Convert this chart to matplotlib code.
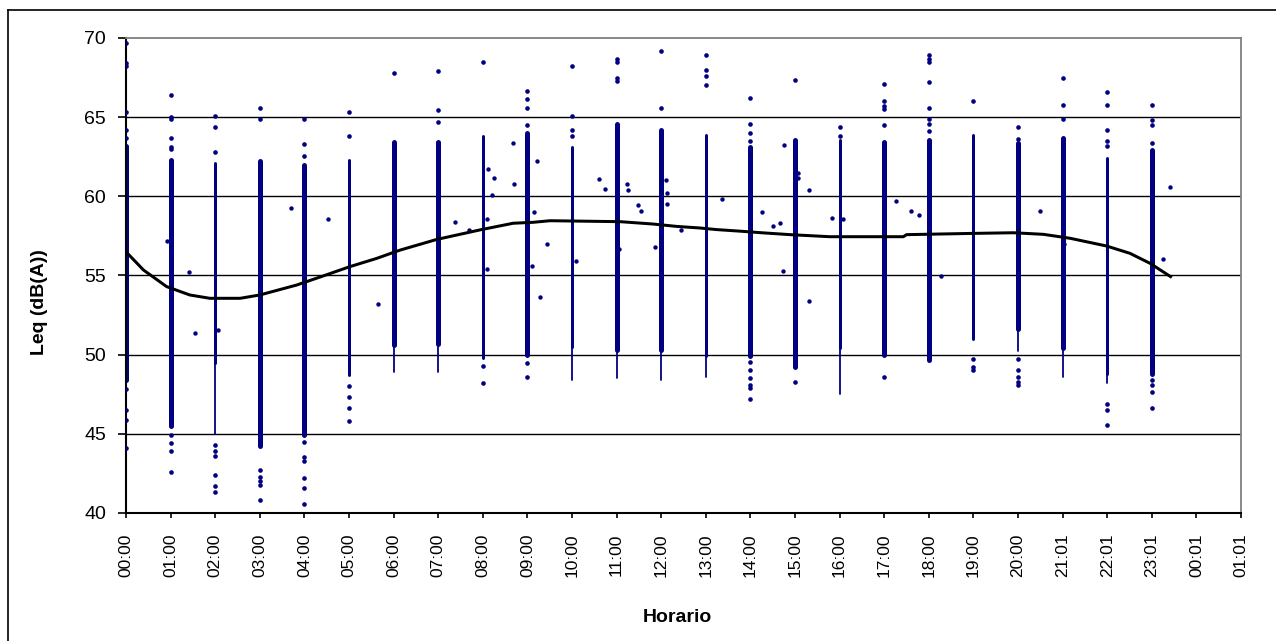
"""Hourly Leq scatter (dB(A)) with its smoothed daily trend, Excel-style chart."""

import matplotlib

matplotlib.use("Agg")
import matplotlib.pyplot as plt
from matplotlib.lines import Line2D

# hour columns, dense band of readings per hour (top / bottom), thin tail below
hours = list(range(24))
core_hi = [63.2, 62.3, 62.1, 62.2, 62.0, 62.3, 63.45, 63.45, 63.8, 64.0, 63.1, 64.6,
           64.2, 63.9, 63.1, 63.55, 63.55, 63.45, 63.55, 63.9, 63.35, 63.7, 62.45, 62.9]
core_lo = [48.4, 45.5, 49.5, 44.2, 44.9, 48.7, 50.6, 50.7, 49.8, 50.0, 50.5, 50.3,
           50.3, 49.9, 49.9, 49.25, 50.4, 50.0, 49.65, 51.0, 51.65, 50.4, 48.8, 48.8]
tail_lo = [48.4, 45.5, 45.0, 44.2, 44.9, 48.7, 48.9, 48.9, 49.8, 50.0, 48.4, 48.5,
           48.4, 48.6, 49.9, 49.25, 47.5, 50.0, 49.65, 51.0, 50.2, 48.6, 48.2, 48.8]

# isolated readings on each hour column
outlier_hour = (
    [0] * 10 + [1] * 10 + [2] * 9 + [3] * 7 + [4] * 9 + [5] * 6 + [6] * 1 + [7] * 3
    + [8] * 3 + [9] * 6 + [10] * 4 + [11] * 4 + [12] * 2 + [13] * 4 + [14] * 10
    + [15] * 2 + [16] * 2 + [17] * 6 + [18] * 8 + [19] * 4 + [20] * 7 + [21] * 3
    + [22] * 8 + [23] * 8
)
outlier_leq = [
    69.7, 68.4, 68.2, 65.3, 64.2, 63.7, 47.8, 46.5, 45.9, 44.1,
    66.4, 65.0, 64.9, 63.7, 63.1, 63.0, 44.9, 44.4, 43.9, 42.6,
    65.1, 64.4, 62.8, 44.3, 43.9, 43.6, 42.4, 41.7, 41.3,
    65.6, 64.9, 42.7, 42.3, 42.0, 41.8, 40.8,
    64.9, 63.3, 62.55, 44.5, 43.55, 43.3, 42.2, 41.6, 40.55,
    65.3, 63.8, 48.0, 47.3, 46.6, 45.8,
    67.8,
    67.9, 65.45, 64.7,
    68.5, 49.3, 48.2,
    66.65, 66.15, 65.6, 64.5, 49.5, 48.6,
    68.2, 65.1, 64.2, 63.8,
    68.7, 68.5, 67.5, 67.3,
    69.2, 65.6,
    68.9, 68.0, 67.6, 67.0,
    66.2, 64.6, 64.0, 63.5, 49.55, 49.0, 48.5, 48.1, 47.9, 47.2,
    67.35, 48.25,
    64.4, 63.8,
    67.1, 66.0, 65.7, 65.5, 64.5, 48.6,
    68.9, 68.7, 68.5, 67.2, 65.6, 64.9, 64.6, 64.1,
    66.0, 49.75, 49.2, 49.0,
    64.4, 63.65, 49.75, 49.0, 48.6, 48.3, 48.1,
    67.5, 65.75, 64.9,
    66.6, 65.8, 64.2, 63.5, 63.2, 46.9, 46.5, 45.55,
    65.75, 64.8, 64.5, 63.35, 48.4, 48.1, 47.65, 46.65,
]

# stray readings between the hour columns (hours as decimals)
stray_hour = [0.93, 1.42, 1.55, 2.07, 3.70, 4.52, 5.66, 7.38, 7.70, 8.11, 8.26, 8.20,
              8.10, 8.10, 8.68, 8.71, 9.21, 9.15, 9.10, 9.43, 9.28, 10.08, 10.61,
              10.74, 11.06, 11.24, 11.25, 11.48, 11.55, 11.86, 12.10, 12.12, 12.12,
              12.44, 13.36, 14.25, 14.51, 14.66, 14.72, 14.75, 15.07, 15.07, 15.31,
              15.31, 15.83, 16.08, 17.26, 17.59, 17.79, 18.27, 20.49, 21.03, 23.24,
              23.40]
stray_leq = [57.2, 55.2, 51.35, 51.55, 59.25, 58.55, 53.2, 58.4, 57.9, 61.7, 61.15, 60.1,
             58.55, 55.4, 63.35, 60.8, 62.2, 59.0, 55.6, 57.0, 53.65, 55.9, 61.1,
             60.45, 56.7, 60.8, 60.4, 59.45, 59.1, 56.8, 61.0, 60.2, 59.5,
             57.85, 59.85, 59.0, 58.1, 58.3, 55.3, 63.25, 61.45, 61.15, 60.4,
             53.4, 58.6, 58.55, 59.7, 59.1, 58.8, 54.97, 59.1, 57.0, 56.05,
             60.6]

# smoothed trend line
trend_hour = [0.0, 0.39, 0.91, 1.43, 1.88, 2.56, 3.0, 3.83, 4.42, 5.02, 5.62, 6.14,
              6.97, 7.97, 8.68, 9.13, 9.51, 11.08, 11.82, 12.35, 12.87, 13.24, 13.77,
              14.25, 14.89, 15.78, 17.43, 17.5, 19.0, 19.9, 20.57, 21.17, 21.99,
              22.51, 22.96, 23.42]
trend_leq = [56.5, 55.35, 54.3, 53.77, 53.56, 53.56, 53.77, 54.4, 54.97, 55.56, 56.08,
             56.6, 57.28, 57.9, 58.3, 58.36, 58.46, 58.4, 58.25, 58.1, 58.0, 57.9,
             57.8, 57.7, 57.58, 57.45, 57.45, 57.58, 57.66, 57.7, 57.6, 57.35, 56.86,
             56.4, 55.77, 54.93]

tick_labels = [f"{h:02d}:00" for h in range(21)] + ["21:01", "22:01", "23:01", "00:01", "01:01"]

NAVY = "#000080"
# band thickness in pixels, some hours have fewer readings and look thinner
band_px = [5, 5, 3, 5, 5, 3, 5, 5, 3, 5, 3, 5, 5, 3, 5, 5, 3, 5, 5, 3, 5, 5, 3, 5]


def main() -> None:
    plt.rcParams["font.family"] = ["Liberation Sans", "DejaVu Sans"]
    fig = plt.figure(figsize=(12.76, 6.41), dpi=100)
    ax = fig.add_axes([126 / 1276, 1 - 513 / 641, 1115 / 1276, 475 / 641])

    for y in range(45, 70, 5):
        ax.axhline(y, color="black", lw=1.0, zorder=1)

    px = 0.72  # points per pixel at 100 dpi
    tails = ax.vlines(hours, tail_lo, core_lo, colors=NAVY, lw=1.8 * px, zorder=2)
    tails.set_capstyle("round")
    bands = ax.vlines(hours, core_lo, core_hi, colors=NAVY,
                      lw=[w * px for w in band_px], zorder=2)
    bands.set_capstyle("round")
    ax.scatter(outlier_hour, outlier_leq, s=11, color=NAVY, lw=0, zorder=3)
    ax.scatter(stray_hour, stray_leq, s=10, color=NAVY, lw=0, zorder=3)
    ax.plot(trend_hour, trend_leq, color="black", lw=3 * px, zorder=4)

    ax.set_xlim(0, 25)
    ax.set_ylim(40, 70)
    ax.set_xticks(range(26))
    ax.set_xticklabels(tick_labels, rotation=90, fontsize=12.5)
    ax.set_yticks(range(40, 71, 5))
    ax.tick_params(axis="y", labelsize=14, length=8 * px, width=1.2, pad=8.5)
    ax.tick_params(axis="x", length=5 * px, width=1.2, pad=11)

    for side in ("left", "bottom"):
        ax.spines[side].set_color("black")
        ax.spines[side].set_linewidth(1.5)
    for side in ("top", "right"):
        ax.spines[side].set_color("#808080")
        ax.spines[side].set_linewidth(1.3)

    fig.text(39 / 1276, 1 - 302 / 641, "Leq (dB(A))", rotation=90, fontsize=14,
             fontweight="bold", ha="center", va="center")
    fig.text(677 / 1276, 1 - 617 / 641, "Horario", fontsize=14,
             fontweight="bold", ha="center", va="center")

    # chart area frame, only its top and left edges are inside the picture
    x0, y0 = 8 / 1276, 1 - 10 / 641
    fig.add_artist(Line2D([x0, x0], [0, y0], color="black", lw=1.2))
    fig.add_artist(Line2D([x0, 1], [y0, y0], color="black", lw=1.2))

    fig.savefig("out.png", dpi=100)
    plt.close(fig)


if __name__ == "__main__":
    main()
